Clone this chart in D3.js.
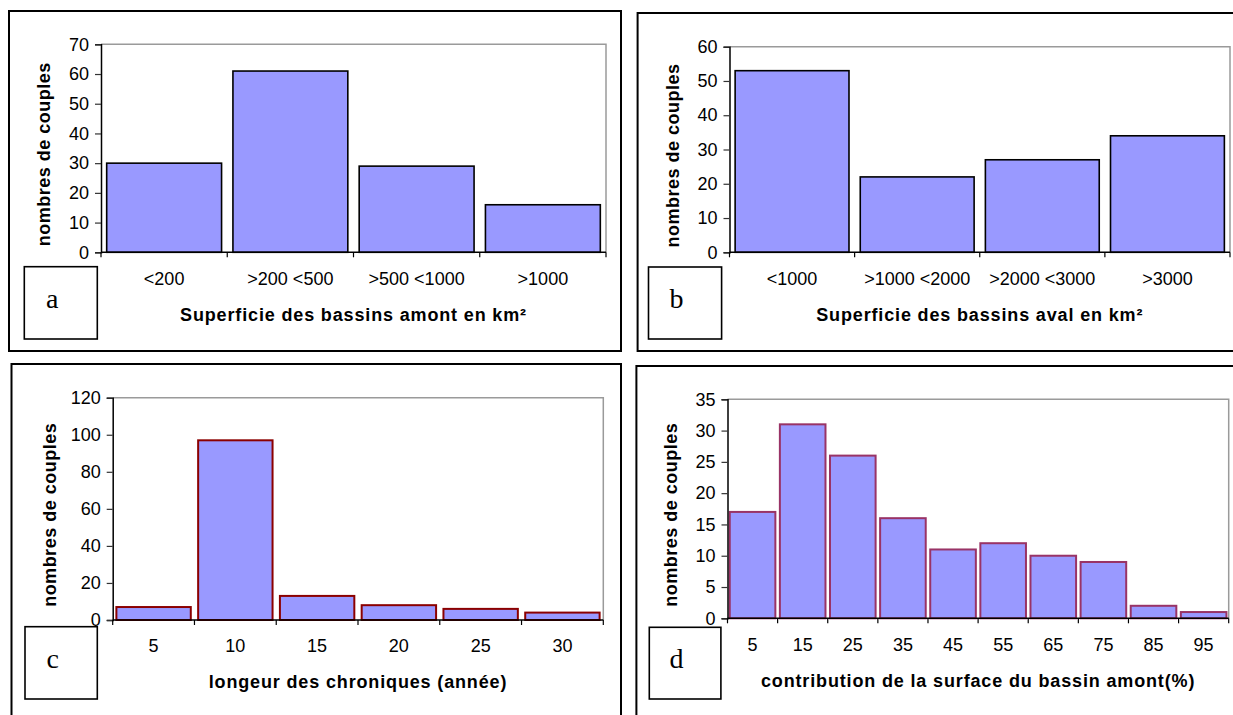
<!DOCTYPE html>
<html>
<head>
<meta charset="utf-8">
<script src="https://cdn.jsdelivr.net/npm/d3@7"></script>
<style>
  html, body { margin: 0; padding: 0; background: #fff; overflow: hidden; }
  svg { display: block; }
  text { font-family: "Liberation Sans", Arial, sans-serif; fill: #000; }
</style>
</head>
<body>
<svg id="chart" width="1233" height="715"></svg>
<script>
// Panel a : upstream basin area classes
const catsA = ["<200", ">200 <500", ">500 <1000", ">1000"];
const valsA = [30, 61, 29, 16];
const ticksA = [0, 10, 20, 30, 40, 50, 60, 70];
const titleA = "Superficie des bassins amont en km²";

// Panel b : downstream basin area classes
const catsB = ["<1000", ">1000 <2000", ">2000 <3000", ">3000"];
const valsB = [53, 22, 27, 34];
const ticksB = [0, 10, 20, 30, 40, 50, 60];
const titleB = "Superficie des bassins aval en km²";

// Panel c : length of the records (years)
const catsC = ["5", "10", "15", "20", "25", "30"];
const valsC = [7, 97, 13, 8, 6, 4];
const ticksC = [0, 20, 40, 60, 80, 100, 120];
const titleC = "longeur des chroniques (année)";

// Panel d : share of the upstream basin area (%)
const catsD = ["5", "15", "25", "35", "45", "55", "65", "75", "85", "95"];
const valsD = [17, 31, 26, 16, 11, 12, 10, 9, 2, 1];
const ticksD = [0, 5, 10, 15, 20, 25, 30, 35];
const titleD = "contribution de la surface du bassin amont(%)";

const yTitle = "nombres de couples";
const panelLetters = ["a", "b", "c", "d"];

// layout of the four panels
const panels = [
  { cats: catsA, vals: valsA, ticks: ticksA, title: titleA, letter: panelLetters[0],
    frame: [9, 11, 621, 351], plot: [101, 44.3, 606, 252.3],
    tag: [24.3, 266.7, 97.3, 339], barStroke: "#000", barStrokeW: 1.6 },
  { cats: catsB, vals: valsB, ticks: ticksB, title: titleB, letter: panelLetters[1],
    frame: [637.6, 13, 1245, 351], plot: [729.5, 46.7, 1230, 252.3],
    tag: [648.5, 267, 721.6, 339], barStroke: "#000", barStrokeW: 1.6 },
  { cats: catsC, vals: valsC, ticks: ticksC, title: titleC, letter: panelLetters[2],
    frame: [11.5, 364, 621, 730], plot: [112.7, 397.7, 603.3, 620],
    tag: [25, 626.7, 97.3, 699], barStroke: "#8b0000", barStrokeW: 2 },
  { cats: catsD, vals: valsD, ticks: ticksD, title: titleD, letter: panelLetters[3],
    frame: [636.4, 366, 1245, 730], plot: [727.5, 399.3, 1228.7, 618.3],
    tag: [649.3, 627.3, 720.9, 699], barStroke: "#993366", barStrokeW: 2 }
];

const svg = d3.select("#chart");

panels.forEach(p => {
  const g = svg.append("g");
  const [fx0, fy0, fx1, fy1] = p.frame;
  const [px0, py0, px1, py1] = p.plot;

  // outer frame
  g.append("rect")
    .attr("x", fx0).attr("y", fy0)
    .attr("width", fx1 - fx0).attr("height", fy1 - fy0)
    .attr("fill", "none").attr("stroke", "#000").attr("stroke-width", 2);

  const x = d3.scaleBand().domain(p.cats).range([px0, px1])
    .paddingInner(0.09).paddingOuter(0.045);
  const y = d3.scaleLinear().domain([0, d3.max(p.ticks)]).range([py1, py0]);

  // plot area top and right edges
  g.append("path")
    .attr("d", `M${px0},${py0}H${px1}V${py1}`)
    .attr("fill", "none").attr("stroke", "#9a9a9a").attr("stroke-width", 1.5);

  // bars
  g.selectAll("rect.bar").data(p.cats.map((c, i) => ({ c, v: p.vals[i] })))
    .join("rect").attr("class", "bar")
    .attr("x", d => x(d.c)).attr("width", x.bandwidth())
    .attr("y", d => y(d.v)).attr("height", d => y(0) - y(d.v))
    .attr("fill", "#9999ff")
    .attr("stroke", p.barStroke).attr("stroke-width", p.barStrokeW);

  // y axis
  const yAxis = d3.axisLeft(y).tickValues(p.ticks).tickSize(6).tickPadding(6)
    .tickFormat(d3.format("d"));
  const ya = g.append("g").attr("transform", `translate(${px0},0)`).call(yAxis);
  ya.select(".domain").attr("stroke", "#000").attr("stroke-width", 1.5);
  ya.selectAll(".tick line").attr("stroke", "#333").attr("stroke-width", 1.2);
  ya.selectAll(".tick text").attr("font-size", 18).attr("font-family", "Liberation Sans, Arial, sans-serif")
    .attr("fill", "#000");

  // x axis: line, boundary ticks, centred category labels
  const xa = g.append("g");
  xa.append("line").attr("x1", px0).attr("x2", px1).attr("y1", py1).attr("y2", py1)
    .attr("stroke", "#000").attr("stroke-width", 1.6);
  const bounds = p.cats.map(c => x(c) - x.step() * x.paddingInner() / 2)
    .concat([px1]);
  xa.selectAll("line.xt").data(bounds).join("line").attr("class", "xt")
    .attr("x1", d => d).attr("x2", d => d).attr("y1", py1).attr("y2", py1 + 5)
    .attr("stroke", "#000").attr("stroke-width", 1.2);
  xa.selectAll("text.xl").data(p.cats).join("text").attr("class", "xl")
    .attr("x", d => x(d) + x.bandwidth() / 2).attr("y", py1 + 26)
    .attr("dy", "0.35em").attr("text-anchor", "middle")
    .attr("font-size", 18).text(d => d);

  // axis titles
  g.append("text")
    .attr("x", (px0 + px1) / 2).attr("y", py1 + 62).attr("dy", "0.35em")
    .attr("text-anchor", "middle").attr("font-size", 18).attr("font-weight", "bold")
    .attr("letter-spacing", "0.85px").text(p.title);
  g.append("text")
    .attr("transform", `translate(${px0 - 57 - (p.ticks[p.ticks.length - 1] >= 100 ? 6 : 0)},${(py0 + py1) / 2 + 6}) rotate(-90)`)
    .attr("dy", "0.35em").attr("text-anchor", "middle")
    .attr("font-size", 18).attr("font-weight", "bold")
    .attr("letter-spacing", "0.5px").text(yTitle);

  // panel letter box
  const [tx0, ty0, tx1, ty1] = p.tag;
  g.append("rect").attr("x", tx0).attr("y", ty0)
    .attr("width", tx1 - tx0).attr("height", ty1 - ty0)
    .attr("fill", "#fff").attr("stroke", "#000").attr("stroke-width", 1.6);
  g.append("text").attr("x", (tx0 + tx1) / 2 - 8.5).attr("y", ty0 + 41)
    .attr("text-anchor", "middle")
    .style("font-family", "'Liberation Serif', 'Times New Roman', serif")
    .attr("font-size", 28).text(p.letter);
});
</script>
</body>
</html>
